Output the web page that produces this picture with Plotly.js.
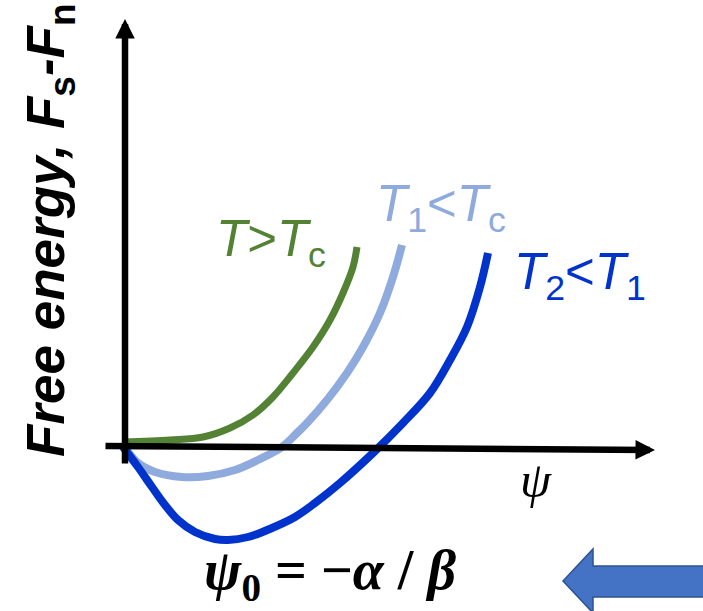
<!DOCTYPE html>
<html><head><meta charset="utf-8">
<script src="https://cdn.plot.ly/plotly-3.0.1.min.js"></script>
<style>html,body{margin:0;padding:0;background:#fff;}#chart{width:703px;height:611px;}</style>
</head><body><div id="chart"></div>
<script>
// order parameter psi and free energy Fs-Fn (arbitrary units)
const psiAboveTc = [-0.02, 0.45, 0.78, 1.05, 1.28, 1.48, 1.68, 1.88, 2.05, 2.18, 2.28, 2.32];
const fAboveTc   = [0.05, 0.07, 0.10, 0.19, 0.32, 0.50, 0.74, 1.00, 1.27, 1.54, 1.80, 2.00];
const psiT1 = [0.01, 0.13, 0.30, 0.57, 0.83, 1.10, 1.33, 1.57, 1.72, 1.82, 2.02, 2.22, 2.38, 2.55, 2.68, 2.77];
const fT1   = [-0.02, -0.16, -0.25, -0.30, -0.29, -0.23, -0.13, 0.00, 0.14, 0.24, 0.47, 0.74, 1.00, 1.34, 1.70, 2.02];
const psiT2 = [-0.02, 0.13, 0.27, 0.40, 0.53, 0.70, 0.90, 1.03, 1.23, 1.47, 1.70, 1.90, 2.15, 2.48, 2.78, 3.05, 3.25, 3.42, 3.55, 3.63];
const fT2   = [0.00, -0.20, -0.40, -0.58, -0.73, -0.85, -0.92, -0.93, -0.90, -0.81, -0.70, -0.56, -0.36, -0.06, 0.24, 0.54, 0.87, 1.20, 1.60, 1.94];
const seriesNames = ['T>Tc', 'T1<Tc', 'T2<T1'];
const seriesColors = ['#548235', '#8FAADC', '#0033CC'];
// axis extents (psi axis and energy axis)
const psiAxisEnds = [-0.21, 5.30];
const fAxisEnds = [-0.18, 4.28];

const traces = [
  {x: psiAboveTc, y: fAboveTc, name: seriesNames[0], mode: 'lines', line: {color: seriesColors[0], width: 7, shape: 'spline', smoothing: 1.0}},
  {x: psiT1, y: fT1, name: seriesNames[1], mode: 'lines', line: {color: seriesColors[1], width: 8, shape: 'spline', smoothing: 1.0}},
  {x: psiT2, y: fT2, name: seriesNames[2], mode: 'lines', line: {color: seriesColors[2], width: 8, shape: 'spline', smoothing: 1.0}}
];

const sans = 'Liberation Sans, Arial, sans-serif';
const serif = 'Liberation Serif, Times New Roman, serif';

const annotations = [
  // energy axis arrow
  {xref:'x', yref:'y', axref:'x', ayref:'y', x:0, y:fAxisEnds[1], ax:0, ay:fAxisEnds[0], text:'', showarrow:true, arrowhead:2, arrowsize:0.6, arrowwidth:6.5, arrowcolor:'#000', standoff:0},
  // psi axis arrow
  {xref:'x', yref:'y', axref:'x', ayref:'y', x:psiAxisEnds[1], y:-0.03, ax:psiAxisEnds[0], ay:0.01, text:'', showarrow:true, arrowhead:2, arrowsize:0.6, arrowwidth:6.5, arrowcolor:'#000', standoff:0},
  // labels
  {xref:'x', yref:'y', x:0.89, y:2.05, xanchor:'left', yanchor:'middle', showarrow:false,
   text:'<i>T</i>><i>T</i><sub>c</sub>', font:{family:sans, size:51, color:seriesColors[0]}},
  {xref:'x', yref:'y', x:2.49, y:2.40, xanchor:'left', yanchor:'middle', showarrow:false,
   text:'<i>T</i><sub>1</sub>&lt;<i>T</i><sub>c</sub>', font:{family:sans, size:51, color:seriesColors[1]}},
  {xref:'x', yref:'y', x:3.87, y:1.72, xanchor:'left', yanchor:'middle', showarrow:false,
   text:'<i>T</i><sub>2</sub>&lt;<i>T</i><sub>1</sub>', font:{family:sans, size:51, color:seriesColors[2]}},
  {xref:'x', yref:'y', x:4.11, y:-0.33, xanchor:'center', yanchor:'middle', showarrow:false,
   text:'<i>ψ</i>', font:{family:serif, size:50, color:'#000'}},
  {xref:'x', yref:'y', x:2.05, y:-1.27, xanchor:'center', yanchor:'middle', showarrow:false,
   text:'<b><i>ψ</i><sub>0</sub> = −<i>α</i> / <i>β</i></b>', font:{family:serif, size:56, color:'#000'}},
  // y title
  {xref:'paper', yref:'paper', x:49/703, y:1-230/611, xanchor:'center', yanchor:'middle', showarrow:false, textangle:-90,
   text:'<b><i>Free energy, F</i><sub>s</sub><i>-F</i><sub>n</sub></b>', font:{family:sans, size:53, color:'#000'}}
];

const shapes = [
  {type:'path', xref:'x', yref:'y',
   path:'M4.38,-1.34 L4.68,-1.02 L4.68,-1.19 L5.90,-1.19 L5.90,-1.50 L4.68,-1.50 L4.68,-1.66 Z',
   fillcolor:'#4472C4', line:{color:'#2F528F', width:1.5}}
];

const layout = {
  width:703, height:611, margin:{l:0, r:0, t:0, b:0},
  paper_bgcolor:'#fff', plot_bgcolor:'#fff', showlegend:false,
  xaxis:{range:[-1.25, 5.78], visible:false, fixedrange:true},
  yaxis:{range:[-1.64, 4.47], visible:false, fixedrange:true},
  annotations: annotations, shapes: shapes
};
Plotly.newPlot('chart', traces, layout, {staticPlot:true});
</script>
</body></html>
